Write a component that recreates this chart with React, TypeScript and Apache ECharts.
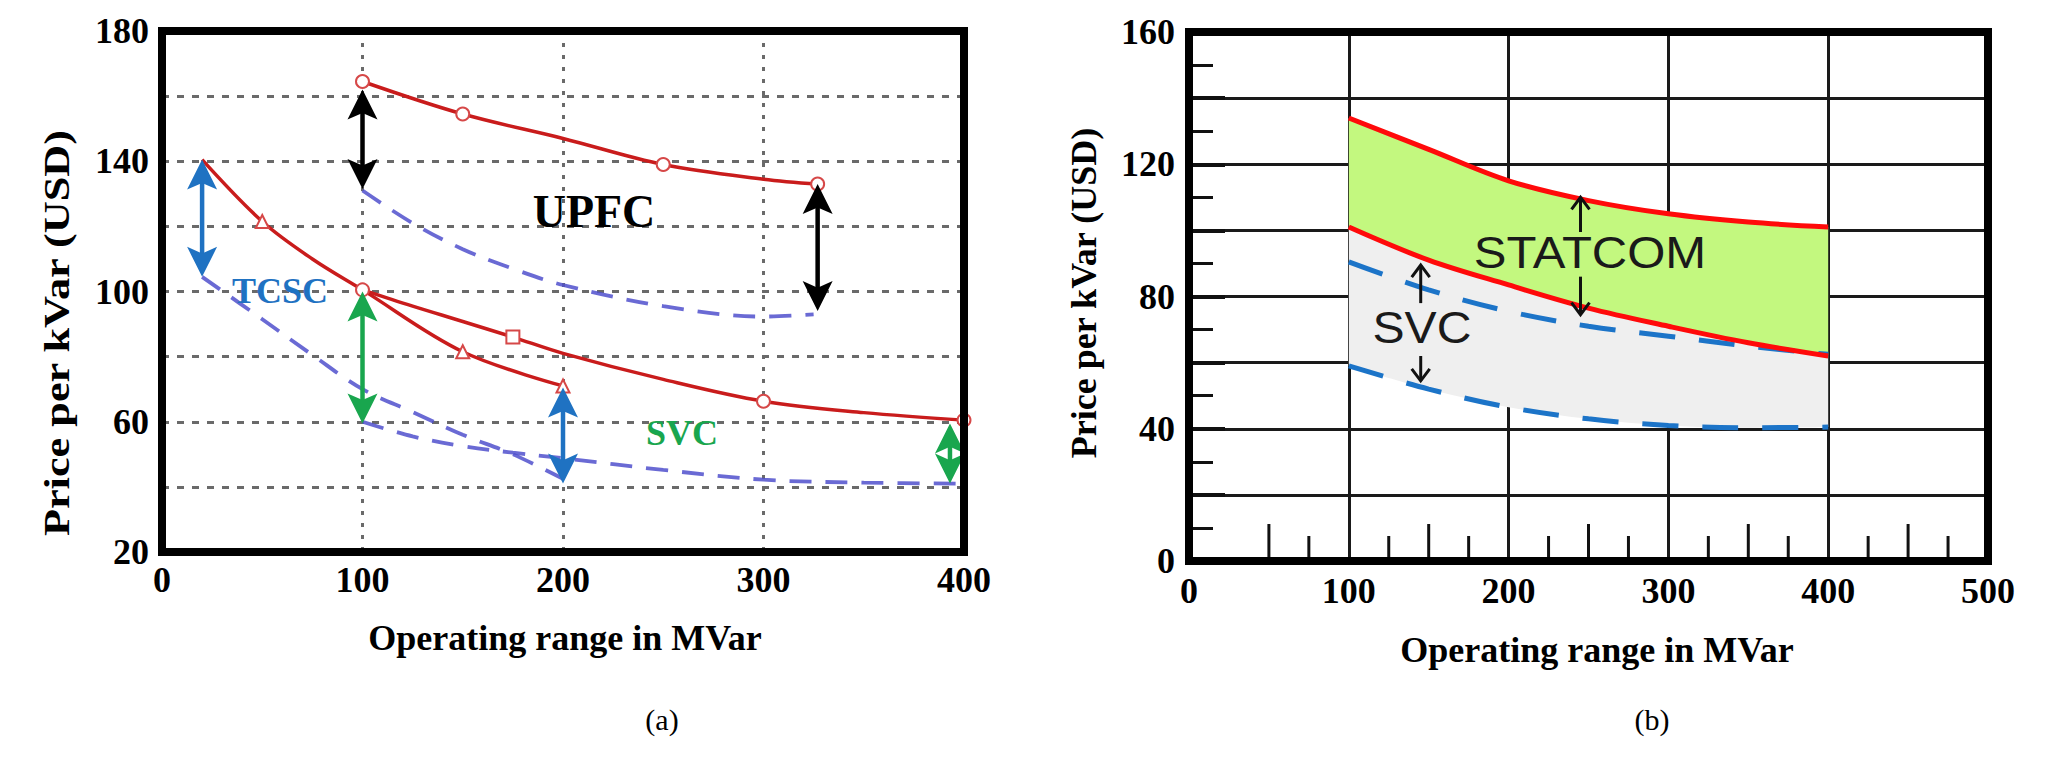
import React, { useEffect, useRef } from "react";
import * as echarts from "echarts";

// ---------- Panel (a): price per kVar vs operating range ----------
const upfcHighX = [100, 150, 200, 250, 300, 327];
const upfcHigh = [164.5, 154.5, 147, 139, 134.5, 133];
const upfcHighMark = ["emptyCircle", "emptyCircle", "none", "emptyCircle", "none", "emptyCircle"];
const upfcLowX = [100, 125, 150, 175, 200, 250, 300, 325];
const upfcLow = [131, 121, 113, 107, 102, 95.5, 92.3, 93];

const tcscHighX = [20, 50, 75, 100, 150, 200];
const tcscHigh = [140.5, 121.5, 110, 100.5, 81.5, 71];
const tcscHighMark = ["none", "emptyTriangle", "none", "none", "emptyTriangle", "emptyTriangle"];
const tcscLowX = [20, 50, 75, 100, 125, 150, 175, 200];
const tcscLow = [104.5, 91.5, 80.5, 70, 63, 56, 50, 42.5];

const svcAHighX = [100, 125, 150, 175, 200, 250, 300, 350, 400];
const svcAHigh = [100.5, 95.5, 90.8, 86, 81, 73, 66.3, 62.8, 60.5];
const svcAHighMark = ["emptyCircle", "none", "none", "emptyRect", "none", "none", "emptyCircle", "none", "emptyCircle"];
const svcALowX = [100, 125, 150, 175, 200, 250, 300, 350, 400];
const svcALow = [60, 55.5, 52.5, 50.5, 48.8, 45.2, 42.2, 41.3, 41];

// double arrows of panel (a): x, upper end, lower end, device
const arrowAX = [100, 327, 20, 200, 100, 393];
const arrowATop = [162, 133, 140.5, 70.5, 100, 59.5];
const arrowABottom = [131.5, 94, 104.5, 41, 59.5, 41];
const arrowADevice = ["UPFC", "UPFC", "TCSC", "TCSC", "SVC", "SVC"];

const ticksA = { xMin: 0, xMax: 400, xStep: 100, yMin: 20, yMax: 180, yStep: 20 };

// ---------- Panel (b) ----------
const xB = [100, 150, 200, 250, 300, 350, 400];
const statcomHigh = [134, 124.5, 115, 109, 105, 102.5, 101];
const statcomLow = [101, 91, 83.5, 76.5, 71, 66, 62];
const svcBHigh = [90.5, 82, 75.5, 71, 68, 65, 62.5];
const svcBLow = [59, 52, 46.5, 43, 41, 40.3, 40.5];

// single arrows of panel (b): x, start, tip
const arrowBX = [245, 245, 145, 145];
const arrowBStart = [99.5, 86, 78, 62];
const arrowBTip = [110, 74.5, 89.5, 54.5];

// small ticks standing on the x axis of panel (b)
const bottomTicksB = [50, 75, 125, 150, 175, 225, 250, 275, 325, 350, 375, 425, 450, 475];

const ticksB = { xMin: 0, xMax: 500, xStep: 100, yMin: 0, yMax: 160, yStep: 20 };

// ---------- styles ----------
const SERIF = "Liberation Serif";
const SANS = "Liberation Sans";
const RED_A = "#c91c1c";
const DASH_A = "rgba(80,80,205,0.85)";
const DEVICE_COLOR: Record<string, string> = { UPFC: "#000000", TCSC: "#1f72c2", SVC: "#19a64e" };
const RED_B = "#ff0a0a";
const BLUE_B = "#1c74c8";

const GRID_A = { left: 162, top: 31, width: 802, height: 521 };
const GRID_B = { left: 1189, top: 32, width: 799, height: 529 };

const pairs = (xs: number[], ys: number[], marks?: string[]) =>
  xs.map((x, i) => (marks ? { value: [x, ys[i]], symbol: marks[i] } : [x, ys[i]]));

const centered = { align: "center", verticalAlign: "middle", textAlign: "center", textVerticalAlign: "middle" };

export default function App() {
  const ref = useRef<HTMLDivElement>(null);

  useEffect(() => {
    if (!ref.current) return;
    const chart = echarts.init(ref.current, null, { renderer: "svg" });

    const tickLabel = {
      fontSize: 36,
      fontWeight: "bold",
      fontFamily: SERIF,
      color: "#000",
    };

    const redLineA = (name: string, xs: number[], ys: number[], marks: string[]) => ({
      name,
      type: "line",
      xAxisIndex: 0,
      yAxisIndex: 0,
      smooth: 0.35,
      data: pairs(xs, ys, marks),
      symbol: "emptyCircle",
      symbolSize: 13,
      showSymbol: true,
      itemStyle: { color: "#d64848", borderWidth: 1.8 },
      lineStyle: { color: RED_A, width: 3.5 },
      z: 4,
    });
    const dashLineA = (name: string, xs: number[], ys: number[]) => ({
      name,
      type: "line",
      xAxisIndex: 0,
      yAxisIndex: 0,
      smooth: 0.35,
      data: pairs(xs, ys),
      symbol: "none",
      lineStyle: { color: DASH_A, width: 3.8, type: [22, 14] },
      z: 3,
    });

    // stacked bands: value column first so that the stack runs along y
    const band = (name: string, ys: number[], color: string | null) => ({
      name,
      type: "line",
      xAxisIndex: 1,
      yAxisIndex: 1,
      stack: "bands",
      smooth: 0.35,
      symbol: "none",
      encode: { x: 1, y: 0 },
      data: xB.map((x, i) => [ys[i], x]),
      lineStyle: { opacity: 0, width: 0 },
      areaStyle: color ? { color, opacity: 1 } : { opacity: 0 },
      z: 2,
    });

    const blueLineB = (name: string, ys: number[]) => ({
      name,
      type: "line",
      xAxisIndex: 1,
      yAxisIndex: 1,
      smooth: 0.35,
      symbol: "none",
      data: pairs(xB, ys),
      lineStyle: { color: BLUE_B, width: 5, type: [36, 24] },
      z: 3,
    });
    const redLineB = (name: string, ys: number[]) => ({
      name,
      type: "line",
      xAxisIndex: 1,
      yAxisIndex: 1,
      smooth: 0.35,
      symbol: "none",
      data: pairs(xB, ys),
      lineStyle: { color: RED_B, width: 5 },
      z: 4,
    });

    const option: any = {
      animation: false,
      backgroundColor: "#ffffff",
      grid: [{ ...GRID_A }, { ...GRID_B }],
      xAxis: [
        {
          gridIndex: 0,
          type: "value",
          min: ticksA.xMin,
          max: ticksA.xMax,
          interval: ticksA.xStep,
          axisLine: { show: false },
          axisTick: { show: false },
          axisLabel: { ...tickLabel, margin: 10 },
          splitLine: { show: true, lineStyle: { color: "#6a6a6a", width: 3, type: [4, 8] } },
        },
        {
          gridIndex: 1,
          type: "value",
          min: ticksB.xMin,
          max: ticksB.xMax,
          interval: ticksB.xStep,
          axisLine: { show: false },
          axisTick: { show: false },
          axisLabel: { ...tickLabel, margin: 12 },
          splitLine: { show: true, lineStyle: { color: "#1a1a1a", width: 3, type: "solid" } },
        },
      ],
      yAxis: [
        {
          gridIndex: 0,
          type: "value",
          min: ticksA.yMin,
          max: ticksA.yMax,
          interval: ticksA.yStep,
          axisLine: { show: false },
          axisTick: { show: false },
          axisLabel: {
            ...tickLabel,
            margin: 13,
            formatter: (v: number) => ((v - ticksA.yMin) % (ticksA.yStep * 2) === 0 ? String(v) : ""),
          },
          splitLine: { show: true, lineStyle: { color: "#6a6a6a", width: 3, type: [7, 8] } },
        },
        {
          gridIndex: 1,
          type: "value",
          min: ticksB.yMin,
          max: ticksB.yMax,
          interval: ticksB.yStep,
          axisLine: { show: false },
          axisTick: { show: true, inside: true, length: 36, lineStyle: { color: "#111", width: 4 } },
          minorTick: { show: true, splitNumber: 2, length: 24, lineStyle: { color: "#111", width: 3 } },
          axisLabel: {
            ...tickLabel,
            margin: 14,
            formatter: (v: number) => (v % (ticksB.yStep * 2) === 0 ? String(v) : ""),
          },
          splitLine: { show: true, lineStyle: { color: "#1a1a1a", width: 3, type: "solid" } },
        },
      ],
      series: [
        // panel (a)
        dashLineA("UPFC min", upfcLowX, upfcLow),
        dashLineA("TCSC min", tcscLowX, tcscLow),
        dashLineA("SVC min", svcALowX, svcALow),
        redLineA("UPFC max", upfcHighX, upfcHigh, upfcHighMark),
        redLineA("TCSC max", tcscHighX, tcscHigh, tcscHighMark),
        redLineA("SVC max", svcAHighX, svcAHigh, svcAHighMark),
        {
          name: "ranges (a)",
          type: "custom",
          xAxisIndex: 0,
          yAxisIndex: 0,
          z: 6,
          data: arrowAX.map((x, i) => [x, arrowATop[i], arrowABottom[i], i]),
          renderItem: (_p: any, api: any) => {
            const idx = api.value(3);
            const color = DEVICE_COLOR[arrowADevice[idx]];
            const a = api.coord([api.value(0), api.value(1)]);
            const b = api.coord([api.value(0), api.value(2)]);
            const h = 30;
            const w = 15;
            return {
              type: "group",
              children: [
                { type: "line", shape: { x1: a[0], y1: a[1] + h * 0.6, x2: b[0], y2: b[1] - h * 0.6 }, style: { stroke: color, lineWidth: 4.5 } },
                { type: "polygon", shape: { points: [[a[0], a[1]], [a[0] + w, a[1] + h], [a[0], a[1] + h * 0.78], [a[0] - w, a[1] + h]] }, style: { fill: color } },
                { type: "polygon", shape: { points: [[b[0], b[1]], [b[0] + w, b[1] - h], [b[0], b[1] - h * 0.78], [b[0] - w, b[1] - h]] }, style: { fill: color } },
              ],
            };
          },
        },
        // panel (b): bands and curves
        band("SVC lower bound", svcBLow, null),
        band("SVC band", statcomLow.map((v, i) => v - svcBLow[i]), "#efefef"),
        band("STATCOM band", statcomHigh.map((v, i) => v - statcomLow[i]), "#c3f87f"),
        blueLineB("SVC max (b)", svcBHigh),
        blueLineB("SVC min (b)", svcBLow),
        redLineB("STATCOM max", statcomHigh),
        redLineB("STATCOM min", statcomLow),
        {
          name: "ranges (b)",
          type: "custom",
          xAxisIndex: 1,
          yAxisIndex: 1,
          z: 6,
          data: arrowBX.map((x, i) => [x, arrowBStart[i], arrowBTip[i]]),
          renderItem: (_p: any, api: any) => {
            const a = api.coord([api.value(0), api.value(1)]);
            const t = api.coord([api.value(0), api.value(2)]);
            const dir = t[1] < a[1] ? 1 : -1;
            return {
              type: "group",
              children: [
                { type: "line", shape: { x1: a[0], y1: a[1], x2: t[0], y2: t[1] }, style: { stroke: "#111", lineWidth: 3 } },
                {
                  type: "polyline",
                  shape: { points: [[t[0] - 9, t[1] + dir * 12], [t[0], t[1]], [t[0] + 9, t[1] + dir * 12]] },
                  style: { stroke: "#111", lineWidth: 3, fill: "none" },
                },
              ],
            };
          },
        },
        {
          name: "x ticks (b)",
          type: "custom",
          xAxisIndex: 1,
          yAxisIndex: 1,
          z: 5,
          data: bottomTicksB.map((x) => [x, ticksB.yMin]),
          renderItem: (_p: any, api: any) => {
            const x = api.value(0);
            const p = api.coord([x, api.value(1)]);
            const len = x % 50 === 0 ? 37 : 25;
            return { type: "line", shape: { x1: p[0], y1: p[1], x2: p[0], y2: p[1] - len }, style: { stroke: "#111", lineWidth: 3 } };
          },
        },
      ],
      graphic: [
        // frames
        { type: "rect", z: 100, shape: { x: GRID_A.left, y: GRID_A.top, width: GRID_A.width, height: GRID_A.height }, style: { fill: "none", stroke: "#000", lineWidth: 8 } },
        { type: "rect", z: 100, shape: { x: GRID_B.left, y: GRID_B.top, width: GRID_B.width, height: GRID_B.height }, style: { fill: "none", stroke: "#000", lineWidth: 8 } },
        // panel (a) texts
        { type: "text", x: 594, y: 211, z: 10, style: { text: "UPFC", fontSize: 46, fontWeight: "bold", fontFamily: SERIF, fill: "#000", ...centered } },
        { type: "text", x: 280, y: 291, z: 10, style: { text: "TCSC", fontSize: 36, fontWeight: "bold", fontFamily: SERIF, fill: DEVICE_COLOR.TCSC, ...centered } },
        { type: "text", x: 682, y: 433, z: 10, style: { text: "SVC", fontSize: 36, fontWeight: "bold", fontFamily: SERIF, fill: DEVICE_COLOR.SVC, ...centered } },
        { type: "text", x: 565, y: 638, style: { text: "Operating range in MVar", fontSize: 36, fontWeight: "bold", fontFamily: SERIF, fill: "#000", ...centered } },
        { type: "text", x: 57, y: 333, rotation: Math.PI / 2, scaleX: 1.23, style: { text: "Price per kVar (USD)", fontSize: 36, fontWeight: "bold", fontFamily: SERIF, fill: "#000", ...centered } },
        { type: "text", x: 662, y: 719, style: { text: "(a)", fontSize: 30, fontFamily: SERIF, fill: "#000", ...centered } },
        // panel (b) texts
        { type: "text", x: 1590, y: 252, z: 10, scaleX: 1.09, style: { text: "STATCOM", fontSize: 45, fontFamily: SANS, fill: "#1a1a1a", ...centered } },
        { type: "text", x: 1422, y: 328, z: 10, scaleX: 1.07, style: { text: "SVC", fontSize: 45, fontFamily: SANS, fill: "#1a1a1a", ...centered } },
        { type: "text", x: 1597, y: 650, style: { text: "Operating range in MVar", fontSize: 36, fontWeight: "bold", fontFamily: SERIF, fill: "#000", ...centered } },
        { type: "text", x: 1084, y: 293, rotation: Math.PI / 2, style: { text: "Price per kVar (USD)", fontSize: 36, fontWeight: "bold", fontFamily: SERIF, fill: "#000", ...centered } },
        { type: "text", x: 1652, y: 719, style: { text: "(b)", fontSize: 30, fontFamily: SERIF, fill: "#000", ...centered } },
      ],
    };

    chart.setOption(option);
    return () => chart.dispose();
  }, []);

  return (
    <div
      ref={ref}
      style={{ position: "fixed", left: 0, top: 0, width: 2046, height: 775, background: "#fff" }}
    />
  );
}
